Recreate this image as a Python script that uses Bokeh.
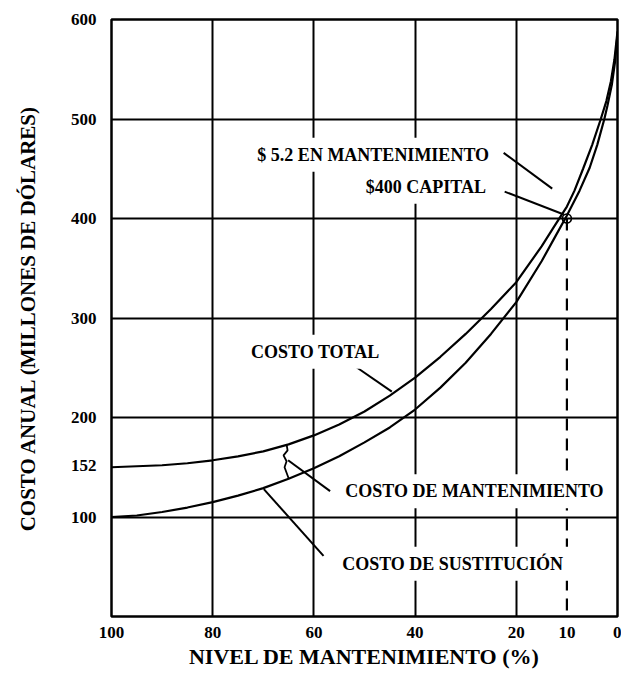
from bokeh.plotting import figure
from bokeh.models import Range1d, FixedTicker, Label
from bokeh.embed import file_html
from bokeh.resources import INLINE

# ---------------- data ----------------
# Costo total (upper curve)
nivel_total = [100, 90, 85, 80, 75, 70, 65, 60, 55, 50, 45, 40, 35, 30, 25, 20, 15, 12.5, 10, 8.5, 6.8, 5, 3.3, 2.2, 1.3, 0.6, 0]
costo_total = [150, 152, 154, 157, 161, 166, 173, 182, 193, 206, 222, 240, 261, 284, 309, 336, 372, 392, 412, 428, 450, 474, 500, 518, 538, 560, 588]

# Costo de sustitución (lower curve)
nivel_sust = [100, 95, 90, 85, 80, 75, 70, 65, 60, 55, 50, 45, 40, 35, 30, 25, 20, 15, 12.5, 10, 7.5, 5.5, 4, 2.6, 2, 1.1, 0.5, 0]
costo_sust = [100, 101.5, 105, 109.5, 115, 121.5, 129, 138.5, 149, 161, 175, 190, 208, 230, 255, 284, 316, 357, 380, 403, 428, 451, 474, 500, 513, 535, 557, 585]

# Optimum marked on the chart
nivel_optimo = 10
costo_capital = 400

# Maintenance-cost marker (squiggle between the curves)
squiggle_x = [65.4, 65.2, 66.0, 65.4, 65.8, 65.0]
squiggle_y = [173, 167, 162, 156, 150, 139]

x_ticks = [100, 80, 60, 40, 20, 10, 0]
y_ticks = [100, 152, 200, 300, 400, 500, 600]
x_grid = [80, 60, 40, 20]
y_grid = [100, 200, 300, 400, 500]

# annotation texts with anchor (x, y, align) and leader line (x0, y0, x1, y1)
notes = [
    ("$ 5.2 EN MANTENIMIENTO", 24.0, 464, "right", (22.5, 466, 12.9, 430)),
    ("$400 CAPITAL", 24.6, 432, "right", (22.3, 427, 10.6, 404)),
    ("COSTO TOTAL", 73.8, 266, "left", (52.3, 253, 44.6, 226)),
    ("COSTO DE MANTENIMIENTO", 55.2, 126, "left", (56.8, 126, 65.1, 157)),
    ("COSTO DE SUSTITUCIÓN", 55.8, 53, "left", (58.1, 61, 69.9, 128)),
]

FONT = "Liberation Serif"

p = figure(width=621, height=671,
           x_range=Range1d(100, 0), y_range=Range1d(0, 600),
           output_backend="svg", toolbar_location=None,
           min_border_left=111, min_border_right=4,
           min_border_top=19, min_border_bottom=40,
           x_axis_label="NIVEL DE MANTENIMIENTO (%)",
           y_axis_label="COSTO ANUAL (MILLONES DE DÓLARES)")

p.background_fill_color = "white"
p.border_fill_color = "white"
p.outline_line_color = "black"
p.outline_line_width = 2.5
p.outline_line_alpha = 1.0

p.xaxis.ticker = FixedTicker(ticks=x_ticks)
p.yaxis.ticker = FixedTicker(ticks=y_ticks)
p.xgrid.ticker = FixedTicker(ticks=x_grid)
p.ygrid.ticker = FixedTicker(ticks=y_grid)
for g in (p.xgrid, p.ygrid):
    g.grid_line_color = "black"
    g.grid_line_width = 2
    g.grid_line_alpha = 1.0

for ax in (p.xaxis, p.yaxis):
    ax.axis_line_color = None
    ax.major_tick_line_color = None
    ax.minor_tick_line_color = None
    ax.major_tick_out = 0
    ax.major_tick_in = 0
    ax.major_label_text_font = FONT
    ax.major_label_text_font_style = "bold"
    ax.major_label_text_font_size = "17px"
    ax.major_label_text_color = "black"
    ax.axis_label_text_font = FONT
    ax.axis_label_text_font_style = "bold"
    ax.axis_label_text_color = "black"

p.xaxis.major_label_standoff = 10
p.xaxis.axis_label_standoff = 3
p.xaxis.axis_label_text_font_size = "22px"
p.yaxis.major_label_standoff = 15
p.yaxis.axis_label_standoff = 28
p.yaxis.axis_label_text_font_size = "21px"

# curves
p.line(nivel_total, costo_total, line_color="black", line_width=2.2)
p.line(nivel_sust, costo_sust, line_color="black", line_width=2.2)
p.line(squiggle_x, squiggle_y, line_color="black", line_width=1.8)

# optimum dashed line and circle
p.line([nivel_optimo, nivel_optimo], [costo_capital, 0],
       line_color="black", line_width=2.2, line_dash="12 8")
p.scatter([nivel_optimo], [costo_capital], marker="circle", size=9,
          fill_color=None, line_color="black", line_width=1.6)

# annotations
for text, lx, ly, align, (x0, y0, x1, y1) in notes:
    p.line([x0, x1], [y0, y1], line_color="black", line_width=2)
    p.add_layout(Label(x=lx, y=ly, text=text, text_align=align,
                       text_baseline="middle", text_font=FONT,
                       text_font_style="bold", text_font_size="18px",
                       text_color="black",
                       background_fill_color="white",
                       background_fill_alpha=1.0,
                       padding=7))

open("out.html", "w").write(file_html(p, INLINE))
